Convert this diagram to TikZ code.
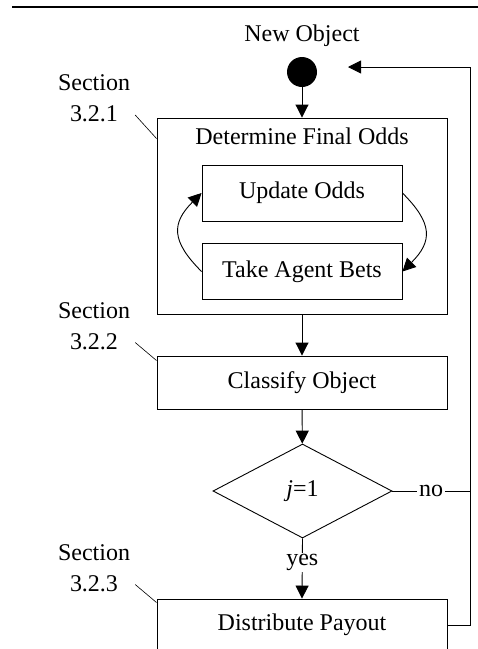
\documentclass[tikz,border=0pt]{standalone}
\usepackage{fontspec}
\setmainfont{Liberation Serif}
\usetikzlibrary{arrows.meta,positioning,shapes.geometric}

\newcommand{\flowfont}{\fontsize{24}{31}\selectfont}
\tikzstyle{block}=[draw,rectangle,line width=0.9pt,inner sep=0pt,minimum width=290pt]
\tikzstyle{inner}=[draw,rectangle,line width=0.9pt,inner sep=0pt,minimum width=200pt,minimum height=56pt]
\tikzstyle{decision}=[draw,diamond,line width=0.9pt,inner sep=0pt,minimum width=179pt,minimum height=94pt]
\tikzstyle{flow}=[draw,line width=0.9pt,-{Triangle[length=13pt,width=13pt]}]
\tikzstyle{leader}=[draw,line width=0.6pt]
\tikzstyle{tag}=[align=center,inner sep=0pt]

\begin{document}
\begin{tikzpicture}[x=1pt, y=-1pt, font=\flowfont]
    \useasboundingbox (0,0) rectangle (478,649);
    \clip (0,0) rectangle (478,649);
    \draw[line width=2.5pt] (12,7) -- (478,7);

    % start point and the main chain of steps
    \node[circle,fill,minimum size=30pt,inner sep=0pt] (start) at (302,72) {};
    \node (newobj) [above=7pt of start] {New Object};
    \node[block,minimum height=196pt] (odds) at (302,216) {};
    \node (oddstitle) at ([yshift=-19pt]odds.north) {Determine Final Odds};
    \node[inner] (update) at (302,193) {Update Odds};
    \node[inner] (bets) at (302,271.5) {Take Agent Bets};
    \node[block,minimum height=53pt] (classify) at (302,382.5) {Classify Object};
    \node[decision] (check) at (302.5,491) {\textit{j}=1};
    \node[block,minimum height=52pt] (payout) at (302,625) {Distribute Payout};
    \coordinate (rail) at (470,67);
    \coordinate (ret) at (348,67);

    % arrows between the steps
    \path[flow] (start) -- (odds);
    \path[flow] (odds) -- (classify);
    \path[flow] (classify) -- (check);
    \path[flow] (check.south) -- node[fill=white,inner sep=1pt,pos=0.4] {yes} (payout.north);
    \path[flow] (update.east) to[out=-45,in=45,looseness=1.4] (bets.east);
    \path[flow] (bets.west) to[out=135,in=225,looseness=1.4] (update.west);
    \draw[line width=0.9pt] (check.east) -- node[fill=white,inner sep=2pt] {no} (check.east -| rail);
    \path[flow] (payout.east) -| (rail) -- (ret);

    % section references on the left
    \foreach \num/\y/\target/\drop in {1/98.5/odds/-21pt, 2/326/classify/-5pt, 3/568/payout/-4pt} {
        \node[tag] (sec\num) at (94,\y) {Section\\3.2.\num};
        \path[leader] ([xshift=5pt,yshift=-16.5pt]sec\num.east) -- ([yshift=\drop]\target.north west);
    }
\end{tikzpicture}
\end{document}
